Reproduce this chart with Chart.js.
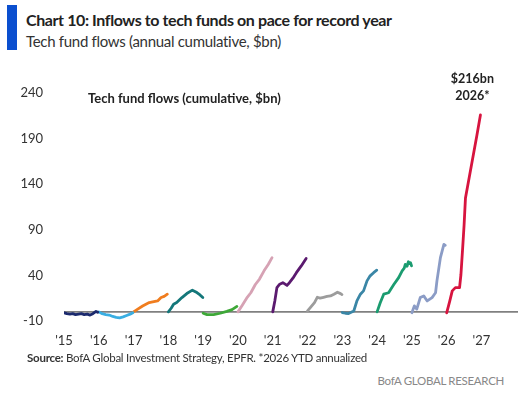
<!DOCTYPE html>
<html>
<head>
<meta charset="utf-8">
<script src="https://cdn.jsdelivr.net/npm/chart.js@4"></script>
<style>
  body { margin: 0; background: #fff; width: 532px; height: 401px; overflow: hidden; font-family: Lato, sans-serif; }
  #bar { position: absolute; left: 7px; top: 5px; width: 10px; height: 45px; background: #0b4fcf; }
  #title { position: absolute; left: 26px; top: 10px; font-size: 16px; font-weight: bold; color: #222; white-space: nowrap; letter-spacing: -0.4px; }
  #sub { position: absolute; left: 26px; top: 32px; font-size: 15px; color: #333; white-space: nowrap; letter-spacing: -0.3px; }
  #wrap { position: absolute; left: 0; top: 60px; width: 532px; height: 300px; }
  #src { position: absolute; left: 27px; top: 351px; font-size: 11.5px; color: #333; white-space: nowrap; letter-spacing: -0.25px; }
  #brand { position: absolute; right: 28px; top: 374px; font-size: 11.5px; color: #888; white-space: nowrap; letter-spacing: -0.3px; }
</style>
</head>
<body>
<div id="bar"></div>
<div id="title">Chart 10: Inflows to tech funds on pace for record year</div>
<div id="sub">Tech fund flows (annual cumulative, $bn)</div>
<div id="wrap"><canvas id="myChart"></canvas></div>
<div id="src"><b>Source:</b> BofA Global Investment Strategy, EPFR. *2026 YTD annualized</div>
<div id="brand">BofA GLOBAL RESEARCH</div>
<script>
// cumulative flows per year: [fraction of year, $bn]
const flows2015 = [[0,-1],[0.08,-2],[0.17,-2.5],[0.25,-2],[0.33,-3],[0.42,-2.5],[0.5,-2],[0.58,-3],[0.67,-2.5],[0.75,-3.5],[0.83,-2],[0.92,0.5],[0.97,-0.5]];
const flows2016 = [[0,0],[0.1,-2],[0.2,-3],[0.3,-3.5],[0.4,-5],[0.5,-6],[0.6,-6.5],[0.7,-5.5],[0.8,-4],[0.9,-2.5],[0.98,-1]];
const flows2017 = [[0,0],[0.12,3],[0.26,6.4],[0.45,10.2],[0.55,11],[0.69,12],[0.79,15.7],[0.88,17],[0.97,19.4]];
const flows2018 = [[0,0],[0.08,4],[0.15,8.4],[0.24,10.2],[0.39,15.7],[0.53,20.1],[0.69,23.8],[0.82,21.2],[0.91,18.6],[0.99,15.7]];
const flows2019 = [[0,-1.5],[0.11,-3],[0.3,-3],[0.49,-1.5],[0.68,0.5],[0.83,2.5],[0.97,6]];
const flows2020 = [[0,0],[0.12,7],[0.25,15],[0.37,21],[0.5,30],[0.62,36],[0.75,45],[0.87,52],[0.98,59.5]];
const flows2021 = [[0,0],[0.06,12],[0.12,26.6],[0.2,30.4],[0.29,32],[0.41,29],[0.48,32],[0.58,37],[0.68,43],[0.82,50.4],[0.96,58.5]];
const flows2022 = [[0,1],[0.08,4.7],[0.2,10.2],[0.28,16],[0.36,15],[0.46,16],[0.56,17],[0.66,17.5],[0.76,19.4],[0.86,21.5],[0.95,20],[0.99,19]];
const flows2023 = [[0,-0.7],[0.09,-1.5],[0.18,-1.8],[0.33,1],[0.42,12],[0.52,19.4],[0.61,23],[0.71,34],[0.8,39.5],[0.9,43],[0.99,45.7]];
const flows2024 = [[0,0],[0.09,10],[0.19,19.4],[0.33,21],[0.48,30],[0.62,37.6],[0.72,45],[0.78,48],[0.81,52],[0.86,50],[0.9,55],[0.93,53],[0.96,54],[0.99,50.4]];
const flows2025 = [[0,-1],[0.07,6.6],[0.14,3],[0.24,15.7],[0.34,17.5],[0.44,12],[0.58,15.7],[0.68,21],[0.72,34],[0.82,59.5],[0.92,74],[0.96,73]];
const flows2026 = [[0,-1],[0.09,12],[0.16,23],[0.25,26.6],[0.37,26.6],[0.41,41],[0.46,70.5],[0.5,95],[0.54,125],[0.65,148],[0.76,171],[0.87,194],[0.97,216]];

const seriesYears = [2015, 2016, 2017, 2018, 2019, 2020, 2021, 2022, 2023, 2024, 2025, 2026];
const seriesFlows = [flows2015, flows2016, flows2017, flows2018, flows2019, flows2020, flows2021, flows2022, flows2023, flows2024, flows2025, flows2026];
const seriesColors = ['#1c2a6e', '#3aaee2', '#f07d1f', '#14777a', '#3ea838', '#d6a2b4', '#5b1a6f', '#9c9c9c', '#3a86a6', '#1b9c70', '#8b9cc6', '#d7143f'];
const xTicks = [2015, 2016, 2017, 2018, 2019, 2020, 2021, 2022, 2023, 2024, 2025, 2026, 2027];
const yTicks = [-10, 40, 90, 140, 190, 240];
const xRange = [2015, 2028.05];
const latestLabel = ['$216bn', '2026*'];

const datasets = seriesYears.map((yr, i) => ({
  label: String(yr),
  data: seriesFlows[i].map(p => ({ x: yr + p[0], y: p[1] })),
  borderColor: seriesColors[i],
  borderWidth: 2.8,
  pointRadius: 0,
  tension: 0,
  borderJoinStyle: 'round',
  borderCapStyle: 'round'
}));
// zero line underneath
datasets.push({
  label: 'zero',
  data: [{ x: xRange[0], y: 0 }, { x: xRange[1], y: 0 }],
  borderColor: '#808080',
  borderWidth: 1.6,
  pointRadius: 0,
  order: 1
});

const textPlugin = {
  id: 'chartText',
  afterDraw: (chart) => {
    const { ctx, chartArea } = chart;
    ctx.save();
    ctx.fillStyle = '#222';
    ctx.font = 'bold 13px Lato';
    ctx.textBaseline = 'middle';
    ctx.fillText('Tech fund flows (cumulative, $bn)', chartArea.left + 24, chartArea.top + 6);
    const last = flows2026[flows2026.length - 1];
    const px = chart.scales.x.getPixelForValue(2026 + last[0]);
    const py = chart.scales.y.getPixelForValue(last[1]);
    ctx.font = 'bold 12.5px Lato';
    ctx.textAlign = 'center';
    ctx.fillText(latestLabel[0], px - 8, py - 36);
    ctx.fillText(latestLabel[1], px - 8, py - 19);
    ctx.restore();
  }
};

new Chart(document.getElementById('myChart'), {
  type: 'line',
  data: { datasets },
  options: {
    responsive: true,
    maintainAspectRatio: false,
    animation: false,
    layout: { padding: { top: 33, right: 14, left: 0, bottom: 0 } },
    plugins: { legend: { display: false }, tooltip: { enabled: false } },
    scales: {
      x: {
        type: 'linear',
        min: xRange[0],
        max: xRange[1],
        grid: { display: false },
        border: { display: false },
        afterBuildTicks: (s) => { s.ticks = xTicks.map(v => ({ value: v })); },
        afterFit: (s) => { s.height = 39; },
        ticks: {
          autoSkip: false,
          maxRotation: 0,
          padding: 4,
          color: '#333',
          font: { family: 'Lato', size: 13 },
          callback: (v) => "'" + String(v).slice(2)
        }
      },
      y: {
        min: yTicks[0],
        max: yTicks[yTicks.length - 1],
        grid: { display: false },
        border: { display: false },
        afterBuildTicks: (s) => { s.ticks = yTicks.map(v => ({ value: v })); },
        afterFit: (s) => { s.width = 64; },
        ticks: {
          padding: 13,
          color: '#333',
          font: { family: 'Lato', size: 13 }
        }
      }
    }
  },
  plugins: [textPlugin]
});
</script>
</body>
</html>
